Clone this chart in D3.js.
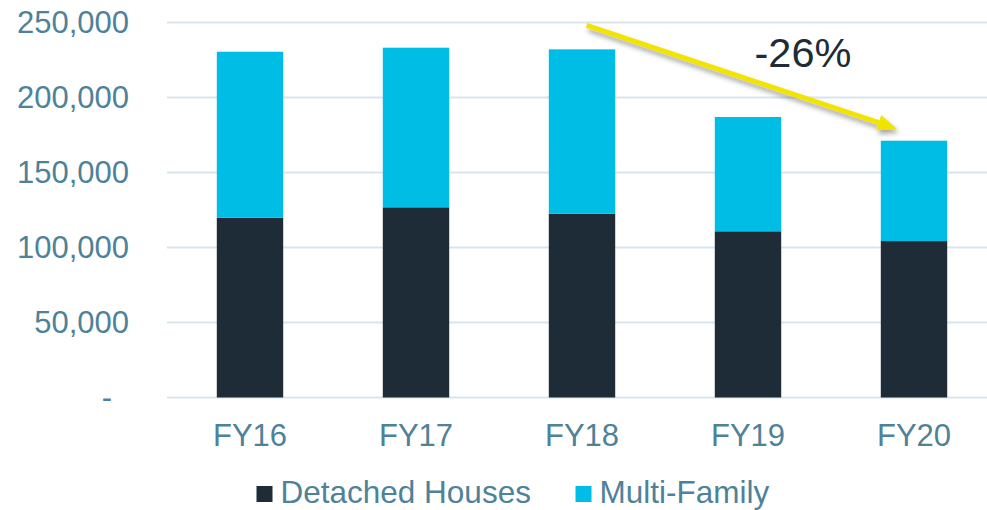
<!DOCTYPE html>
<html lang="en">
<head>
<meta charset="UTF-8">
<title>Housing starts FY16-FY20</title>
<script src="https://d3js.org/d3.v7.min.js"></script>
<style>
  body { margin: 0; background: #fff; }
  svg { display: block; font-family: "Liberation Sans", Arial, sans-serif; }
  .axis text { fill: #4e8299; }
  .legend text { fill: #4e8299; font-size: 31.5px; }
</style>
</head>
<body>
<div id="chart"></div>
<script>
const years = ["FY16", "FY17", "FY18", "FY19", "FY20"];
const detached = [119900, 126800, 122500, 110800, 104300];
const multiFamily = [110600, 106400, 109600, 76200, 66900];
const yTicks = [0, 50000, 100000, 150000, 200000, 250000];
const seriesNames = ["Detached Houses", "Multi-Family"];
const colors = ["#1d2c37", "#00bde6"];
const changeLabel = "-26%";

const width = 987, height = 510;
const plot = { left: 167, right: 997, top: 22.5, bottom: 397.5 };

const svg = d3.select("#chart").append("svg")
  .attr("width", width)
  .attr("height", height);

const x = d3.scaleBand()
  .domain(years)
  .range([plot.left, plot.right])
  .paddingInner(0.6)
  .paddingOuter(0.3);

const y = d3.scaleLinear()
  .domain([0, 250000])
  .range([plot.bottom, plot.top]);

// gridlines
svg.append("g")
  .selectAll("line")
  .data(yTicks)
  .join("line")
  .attr("x1", plot.left)
  .attr("x2", plot.right)
  .attr("y1", d => y(d))
  .attr("y2", d => y(d))
  .attr("stroke", "#d9e5ec")
  .attr("stroke-width", 2);

// y axis labels
const yAxis = svg.append("g")
  .attr("class", "axis")
  .attr("transform", `translate(${plot.left}, 0)`)
  .call(d3.axisLeft(y).tickValues(yTicks).tickSize(0).tickPadding(38)
    .tickFormat(d => d === 0 ? "-" : d3.format(",")(d)));
yAxis.select(".domain").remove();
yAxis.selectAll("text")
  .style("font-size", "31px")
  .attr("dx", d => d === 0 ? -17 : 0);

// stacked bars
const rows = years.map((yr, i) => ({ year: yr, d: detached[i], m: multiFamily[i] }));
const stack = d3.stack().keys(["d", "m"])(rows);

svg.append("g")
  .selectAll("g")
  .data(stack)
  .join("g")
  .attr("fill", (s, i) => colors[i])
  .selectAll("rect")
  .data(s => s)
  .join("rect")
  .attr("x", d => x(d.data.year))
  .attr("width", x.bandwidth())
  .attr("y", d => y(d[1]))
  .attr("height", d => y(d[0]) - y(d[1]));

// x axis labels
const xAxis = svg.append("g")
  .attr("class", "axis")
  .attr("transform", `translate(0, ${plot.bottom})`)
  .call(d3.axisBottom(x).tickSize(0).tickPadding(26));
xAxis.select(".domain").remove();
xAxis.selectAll("text").style("font-size", "31px");

// arrow annotation
const defs = svg.append("defs");
const shadow = defs.append("filter").attr("id", "shadow")
  .attr("x", "-20%").attr("y", "-20%").attr("width", "140%").attr("height", "160%");
shadow.append("feDropShadow")
  .attr("dx", 2).attr("dy", 4).attr("stdDeviation", 2.5)
  .attr("flood-color", "#000").attr("flood-opacity", 0.35);

const startTotal = detached[2] + multiFamily[2];
const endTotal = detached[4] + multiFamily[4];
const ax1 = x("FY18") + x.bandwidth() * 0.57;
const ay1 = y(startTotal) - 24;
const ax2 = x("FY20") + x.bandwidth() * 0.24;
const ay2 = y(endTotal) - 12;
const ang = Math.atan2(ay2 - ay1, ax2 - ax1);
const headLen = 19, headW = 8;
const bx = ax2 - headLen * Math.cos(ang), by = ay2 - headLen * Math.sin(ang);

const arrow = svg.append("g").attr("filter", "url(#shadow)");
arrow.append("line")
  .attr("x1", ax1).attr("y1", ay1)
  .attr("x2", bx).attr("y2", by)
  .attr("stroke", "#f0e400")
  .attr("stroke-width", 5);
arrow.append("path")
  .attr("d", `M${ax2},${ay2}L${bx + headW * Math.sin(ang)},${by - headW * Math.cos(ang)}L${bx - headW * Math.sin(ang)},${by + headW * Math.cos(ang)}Z`)
  .attr("fill", "#f0e400");

svg.append("text")
  .attr("x", 803)
  .attr("y", 66.5)
  .attr("text-anchor", "middle")
  .attr("fill", "#1d2c37")
  .style("font-size", "41.5px")
  .text(changeLabel);

// legend
const legendX = [256.5, 575.5];
const legend = svg.append("g").attr("class", "legend");
const items = legend.selectAll("g")
  .data(seriesNames)
  .join("g")
  .attr("transform", (d, i) => `translate(${legendX[i]}, 486)`);
items.append("rect")
  .attr("width", 16).attr("height", 16)
  .attr("fill", (d, i) => colors[i]);
items.append("text")
  .attr("x", 24)
  .attr("y", 17)
  .text(d => d);
</script>
</body>
</html>
